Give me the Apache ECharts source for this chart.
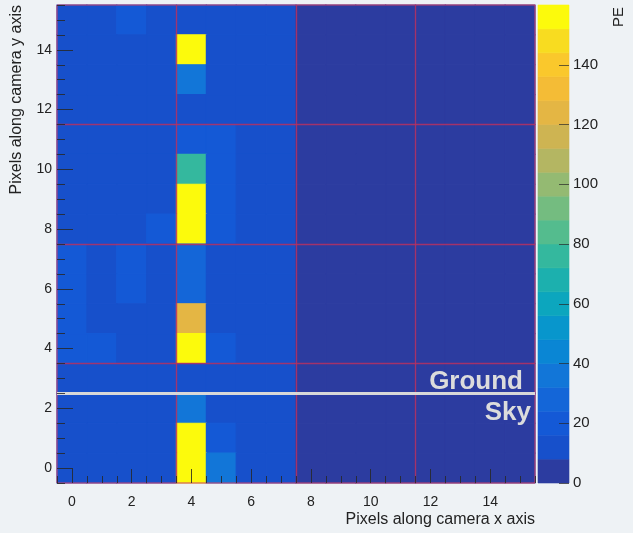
<!DOCTYPE html>
<html>
<head>
<meta charset="utf-8">
<script src="https://cdn.jsdelivr.net/npm/echarts@6/dist/echarts.min.js"></script>
<style>
html,body{margin:0;padding:0;background:#eef2f5;}
#chart{width:633px;height:533px;}
</style>
</head>
<body>
<div id="chart"></div>
<script>
// Pixel values, rows listed from top (y = 15) to bottom (y = 0), columns x = 0..15
const rowsTopDown = [
  [12,12,20,12, 12,12,12,12, 4,4,4,4, 4,4,4,4],
  [12,12,12,12,158,12,12,12, 4,4,4,4, 4,4,4,4],
  [12,12,12,12, 36,12,12,12, 4,4,4,4, 4,4,4,4],
  [12,12,12,12, 12,12,12,12, 4,4,4,4, 4,4,4,4],
  [12,12,12,12, 22,22,12,12, 4,4,4,4, 4,4,4,4],
  [12,12,12,12, 78,22,12,12, 4,4,4,4, 4,4,4,4],
  [12,12,12,12,158,22,12,12, 4,4,4,4, 4,4,4,4],
  [12,12,12,20,158,22,12,12, 4,4,4,4, 4,4,4,4],
  [22,12,22,12, 24,12,12,12, 4,4,4,4, 4,4,4,4],
  [22,12,22,12, 24,12,12,12, 4,4,4,4, 4,4,4,4],
  [22,12,12,12,124,12,12,12, 4,4,4,4, 4,4,4,4],
  [22,22,12,12,158,22,12,12, 4,4,4,4, 4,4,4,4],
  [12,12,12,12, 12,12,12,12, 4,4,4,4, 4,4,4,4],
  [12,12,12,12, 36,12,12,12, 4,4,4,4, 4,4,4,4],
  [12,12,12,12,158,22,12,12, 4,4,4,4, 4,4,4,4],
  [12,12,12,12,158,38,12,12, 4,4,4,4, 4,4,4,4]
];
const xTickLabels = [0,2,4,6,8,10,12,14];
const yTickLabels = [0,2,4,6,8,10,12,14];
const zTickLabels = [0,20,40,60,80,100,120,140];
const levels = [0,8,16,24,32,40,48,56,64,72,80,88,96,104,112,120,128,136,144,152,160];
const levelColors = ['#2c3ca0','#1750cb','#1459d6','#1466d8','#1276d8','#0a86d4','#0896cc','#0ca6be',
  '#1cb0ae','#34b89e','#54bc8e','#74bc80','#94ba72','#b4b662','#ceb452','#e4b644','#f4bc36','#fac82c','#f8dc20','#fcfa0c'];
const gridCuts = [3.5, 7.5, 11.5];
const horizonY = 2.5;

const cells = [];
rowsTopDown.forEach(function(row, r){
  const y = rowsTopDown.length - 1 - r;
  row.forEach(function(v, x){ cells.push([x, y, v]); });
});
const bands = [];
for (let i = 0; i < levelColors.length; i++) bands.push([levels[i], levels[i+1]]);
const minorTicks = [];
for (let t = -0.5; t <= 15.5001; t += 0.5) { if (t % 2 !== 0) minorTicks.push(t); }

const pieces = levelColors.map(function(c, i){
  return i === levelColors.length - 1 ? {gte: levels[i], lte: levels[i+1], color: c} : {gte: levels[i], lt: levels[i+1], color: c};
});

const txt = '#222';
const font = 'Liberation Sans, Arial, Helvetica, sans-serif';
const tickStyle = {color: 'rgba(40,40,40,0.85)', width: 1};
const noLine = {show: false, onZero: false};

const chart = echarts.init(document.getElementById('chart'));
const markLineData = [];
gridCuts.forEach(function(v){ markLineData.push({xAxis: v}); markLineData.push({yAxis: v}); });
markLineData.push({yAxis: horizonY, lineStyle: {color: '#d8d8d8', width: 3, opacity: 1}});

chart.setOption({
  backgroundColor: '#eef2f5',
  animation: false,
  grid: [
    {left: 57, top: 5, width: 478, height: 478, show: true, borderColor: '#c8406a', borderWidth: 1, backgroundColor: 'transparent', z: 5},
    {left: 538, top: 5, width: 31, height: 478, show: false}
  ],
  xAxis: [
    {type: 'value', gridIndex: 0, position: 'bottom', min: -0.5, max: 15.5,
      axisLine: noLine, splitLine: {show: false},
      axisTick: {show: true, inside: true, length: 14, customValues: xTickLabels, lineStyle: tickStyle},
      axisLabel: {customValues: xTickLabels, color: txt, fontSize: 14, fontFamily: font, margin: 12}, z: 10},
    {type: 'value', gridIndex: 0, position: 'bottom', offset: 0, min: -0.5, max: 15.5,
      axisLine: noLine, splitLine: {show: false}, axisLabel: {show: false},
      axisTick: {show: true, inside: true, length: 7, customValues: minorTicks, lineStyle: tickStyle}, z: 10},
    {type: 'value', gridIndex: 1, min: 0, max: 1, show: false, axisLine: noLine}
  ],
  yAxis: [
    {type: 'value', gridIndex: 0, position: 'left', min: -0.5, max: 15.5,
      axisLine: noLine, splitLine: {show: false},
      axisTick: {show: true, inside: true, length: 16, customValues: yTickLabels, lineStyle: tickStyle},
      axisLabel: {customValues: yTickLabels, color: txt, fontSize: 14, fontFamily: font, margin: 5}, z: 10},
    {type: 'value', gridIndex: 0, position: 'left', offset: 0, min: -0.5, max: 15.5,
      axisLine: noLine, splitLine: {show: false}, axisLabel: {show: false},
      axisTick: {show: true, inside: true, length: 8, customValues: minorTicks, lineStyle: tickStyle}, z: 10},
    {type: 'value', gridIndex: 1, position: 'right', min: 0, max: 160,
      axisLine: noLine, splitLine: {show: false},
      axisTick: {show: true, inside: true, length: 10, customValues: zTickLabels, lineStyle: {color: 'rgba(40,40,40,0.7)', width: 1}},
      axisLabel: {customValues: zTickLabels, color: txt, fontSize: 15, fontFamily: font, margin: 4}, z: 10}
  ],
  visualMap: {type: 'piecewise', show: false, seriesIndex: 0, dimension: 2, pieces: pieces},
  series: [
    {
      type: 'custom', xAxisIndex: 0, yAxisIndex: 0, data: cells,
      renderItem: function(params, api){
        const x = api.value(0), y = api.value(1);
        const p0 = api.coord([x - 0.5, y + 0.5]);
        const p1 = api.coord([x + 0.5, y - 0.5]);
        const c = api.visual('color');
        return {type: 'rect', shape: {x: p0[0], y: p0[1], width: p1[0] - p0[0], height: p1[1] - p0[1]},
          style: {fill: c, stroke: c, lineWidth: 1.2}};
      },
      markLine: {silent: true, symbol: ['none', 'none'], animation: false,
        label: {show: false},
        lineStyle: {color: '#b83060', width: 1.4, type: 'solid', opacity: 0.85},
        data: markLineData},
      z: 2
    },
    {
      type: 'custom', xAxisIndex: 2, yAxisIndex: 2, data: bands,
      renderItem: function(params, api){
        const lo = api.value(0), hi = api.value(1);
        const p0 = api.coord([0, hi]);
        const p1 = api.coord([1, lo]);
        const c = levelColors[params.dataIndex];
        return {type: 'rect', shape: {x: p0[0], y: p0[1], width: p1[0] - p0[0], height: p1[1] - p0[1]},
          style: {fill: c, stroke: c, lineWidth: 0.6}};
      },
      z: 2
    }
  ],
  graphic: [
    {type: 'text', x: 535, y: 520, style: {text: 'Pixels along camera x axis', fill: txt, font: '16px ' + font, textAlign: 'right', textVerticalAlign: 'middle'}},
    {type: 'text', x: 17, y: 5, rotation: Math.PI / 2, style: {text: 'Pixels along camera y axis', fill: txt, font: '16px ' + font, textAlign: 'right', textVerticalAlign: 'middle'}},
    {type: 'text', x: 619, y: 7, rotation: Math.PI / 2, style: {text: 'PE', fill: txt, font: '15px ' + font, textAlign: 'right', textVerticalAlign: 'middle'}},
    {type: 'text', x: 523, y: 382, z: 20, style: {text: 'Ground', fill: '#dcdcdc', font: 'bold 26px ' + font, textAlign: 'right', textVerticalAlign: 'middle'}},
    {type: 'text', x: 531, y: 413, z: 20, style: {text: 'Sky', fill: '#dcdcdc', font: 'bold 26px ' + font, textAlign: 'right', textVerticalAlign: 'middle'}}
  ]
});
</script>
</body>
</html>
